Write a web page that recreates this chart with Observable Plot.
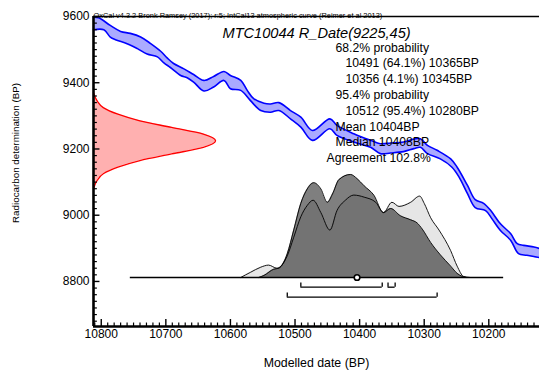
<!DOCTYPE html>
<html><head><meta charset="utf-8">
<script src="https://cdn.jsdelivr.net/npm/d3@7"></script>
<script src="https://cdn.jsdelivr.net/npm/@observablehq/plot@0.6"></script>
<style>
html,body{margin:0;padding:0;background:#fff;}
#chart svg{display:block;}
</style></head><body><div id="chart"></div>
<script>
// ---- data ----
const xTicks = [10800, 10700, 10600, 10500, 10400, 10300, 10200];
const yTicks = [8800, 9000, 9200, 9400, 9600];

// IntCal13 curve, upper and lower edges (cal BP, 14C BP)
const calUpperYear = [10812, 10804, 10786, 10770, 10755, 10739, 10724, 10708, 10698, 10688, 10672, 10657, 10641, 10626, 10610, 10600, 10584, 10574, 10564, 10548, 10538, 10525, 10507, 10491, 10473, 10446, 10435, 10409, 10383, 10368, 10352, 10332, 10316, 10306, 10295, 10280, 10259, 10249, 10233, 10221, 10208, 10197, 10182, 10166, 10156, 10146, 10130, 10121];
const calUpper     = [9598, 9596, 9573, 9555, 9549, 9538, 9519, 9495, 9475, 9458, 9442, 9425, 9407, 9419, 9434, 9422, 9407, 9377, 9352, 9338, 9336, 9340, 9316, 9296, 9256, 9291, 9271, 9246, 9226, 9216, 9218, 9221, 9230, 9231, 9211, 9196, 9170, 9145, 9090, 9047, 9036, 9014, 8974, 8944, 8914, 8909, 8904, 8899];
const calLowerYear = [10812, 10796, 10786, 10778, 10760, 10744, 10729, 10713, 10703, 10693, 10677, 10667, 10657, 10641, 10626, 10610, 10600, 10584, 10569, 10553, 10538, 10525, 10507, 10491, 10473, 10446, 10435, 10409, 10383, 10368, 10352, 10332, 10316, 10306, 10295, 10275, 10257, 10246, 10233, 10221, 10205, 10195, 10182, 10166, 10154, 10141, 10121];
const calLower     = [9560, 9560, 9538, 9530, 9518, 9503, 9487, 9478, 9460, 9446, 9422, 9415, 9402, 9375, 9387, 9407, 9382, 9377, 9346, 9316, 9311, 9316, 9291, 9266, 9226, 9261, 9241, 9221, 9205, 9186, 9188, 9192, 9201, 9205, 9186, 9170, 9145, 9115, 9065, 9023, 9014, 8989, 8954, 8924, 8884, 8879, 8872];

// Radiocarbon measurement R_Date(9225,45): relative probability by 14C age
const redC14  = [9370, 9345, 9325, 9305, 9285, 9265, 9245, 9225, 9205, 9185, 9165, 9145, 9125, 9105, 9080];
const redProb = [0.0, 0.03, 0.08, 0.2, 0.38, 0.64, 0.9, 1.0, 0.9, 0.64, 0.38, 0.2, 0.08, 0.03, 0.0];

// Calibrated likelihood (light) and posterior (dark)
const likeYear = [10584, 10569, 10553, 10541, 10528, 10512, 10502, 10491, 10481, 10472, 10460, 10446, 10435, 10422, 10409, 10393, 10375, 10363, 10350, 10339, 10321, 10307, 10300, 10290, 10277, 10259, 10249, 10239, 10229];
const likeProb = [0, 0.05, 0.10, 0.12, 0.09, 0.21, 0.39, 0.59, 0.70, 0.75, 0.63, 0.46, 0.65, 0.75, 0.80, 0.78, 0.73, 0.63, 0.73, 0.69, 0.73, 0.79, 0.72, 0.58, 0.46, 0.26, 0.11, 0.01, 0];
const postYear = [10556, 10548, 10533, 10525, 10512, 10502, 10491, 10481, 10471, 10460, 10450, 10442, 10432, 10414, 10404, 10393, 10378, 10363, 10352, 10337, 10321, 10311, 10303, 10290, 10275, 10259, 10249, 10241, 10235];
const postProb = [0, 0.02, 0.08, 0.09, 0.23, 0.46, 0.72, 0.86, 0.92, 0.86, 0.73, 0.81, 0.95, 1.00, 0.96, 0.89, 0.80, 0.63, 0.67, 0.60, 0.56, 0.53, 0.47, 0.34, 0.22, 0.11, 0.04, 0.01, 0];

const plotRange = [10755, 10177];
const range68 = [[10491, 10365], [10356, 10345]];
const range95 = [[10512, 10280]];
const meanDate = 10404;

const headerText = "OxCal v4.3.2 Bronk Ramsey (2017); r:5; IntCal13 atmospheric curve (Reimer et al 2013)";
const titleText = "MTC10044 R_Date(9225,45)";
const statLines = ["68.2% probability", "10491 (64.1%) 10365BP", "10356 (4.1%) 10345BP", "95.4% probability", "10512 (95.4%) 10280BP", "Mean 10404BP", "Median 10408BP", "Agreement 102.8%"];
const xLabel = "Modelled date (BP)";
const yLabel = "Radiocarbon determination (BP)";

// ---- layout ----
const xDomain = [10812, 10121.5];
const yDomain = [8664, 9600];
const xLeft = xDomain[0];
const base = 8812;     // 14C level of the distribution baseline
const distK = 311;     // 14C units for relative prob 1
const redK = 189;      // years for relative prob 1
const font = "'Liberation Sans', Arial, Helvetica, sans-serif";

const upper = calUpperYear.map((x, i) => ({x, y: calUpper[i]}));
const lower = calLowerYear.map((x, i) => ({x, y: calLower[i]}));
const bandPoly = upper.concat(lower.slice().reverse());
const red = redC14.map((c, i) => ({c, p: redProb[i]}));
const like = likeYear.map((x, i) => ({x, p: likeProb[i]}));
const post = postYear.map((x, i) => ({x, p: postProb[i]}));
const bars = range68.map(r => ({r, lvl: base - 29.3})).concat(range95.map(r => ({r, lvl: base - 59.5})));
const barEnds = bars.flatMap(b => [{x: b.r[0], lvl: b.lvl}, {x: b.r[1], lvl: b.lvl}]);

const xMinor = d3.range(10130, 10811, 10).filter(v => !xTicks.includes(v));
const yMinor = d3.range(8680, 9601, 20).filter(v => !yTicks.includes(v));
const statDx = [242, 252, 252, 242, 252, 242, 242, 233];

const chart = Plot.plot({
  width: 539, height: 377,
  marginLeft: 93, marginRight: 0, marginTop: 16, marginBottom: 51,
  x: {domain: xDomain, axis: null},
  y: {domain: yDomain, axis: null},
  style: {fontFamily: font, background: "white", color: "black", overflow: "visible"},
  marks: [
    // calibration curve band
    Plot.line(bandPoly, {x: "x", y: "y", fill: "#aaaaff", stroke: "none", curve: "catmull-rom"}),
    Plot.line(upper, {x: "x", y: "y", stroke: "#0000ff", strokeWidth: 1.6, curve: "catmull-rom"}),
    Plot.line(lower, {x: "x", y: "y", stroke: "#0000ff", strokeWidth: 1.6, curve: "catmull-rom"}),
    // radiocarbon measurement distribution
    Plot.areaX(red, {y: "c", x1: xLeft, x2: d => xLeft - d.p * redK, fill: "#ffb0b0", curve: "monotone-y"}),
    Plot.lineX(red, {y: "c", x: d => xLeft - d.p * redK, stroke: "#ff0000", strokeWidth: 1.3, curve: "monotone-y"}),
    // calibrated distributions
    Plot.areaY(like, {x: "x", y1: base, y2: d => base + d.p * distK, fill: "#e6e6e6", curve: "monotone-x"}),
    Plot.areaY(post, {x: "x", y1: base, y2: d => base + d.p * distK, fill: "black", fillOpacity: 0.5, curve: "monotone-x"}),
    Plot.lineY(post, {x: "x", y: d => base + d.p * distK, stroke: "black", strokeWidth: 0.9, curve: "monotone-x"}),
    Plot.lineY(like, {x: "x", y: d => base + d.p * distK, stroke: "black", strokeWidth: 0.9, curve: "monotone-x"}),
    Plot.ruleY([base], {x1: plotRange[0], x2: plotRange[1], stroke: "black", strokeWidth: 1.3}),
    Plot.dot([meanDate], {x: d => d, y: base, r: 2.8, fill: "white", stroke: "black", strokeWidth: 1.6}),
    // ranges
    Plot.ruleY(bars, {y: "lvl", x1: d => d.r[0], x2: d => d.r[1], stroke: "black", strokeWidth: 1.3}),
    Plot.ruleX(barEnds, {x: "x", y1: "lvl", y2: d => d.lvl + 13, stroke: "black", strokeWidth: 1.3}),
    // axes
    Plot.ruleX(xMinor, {x: d => d, y1: yDomain[0], y2: yDomain[0] + 10.5, stroke: "black", strokeWidth: 1.2}),
    Plot.ruleX(xTicks, {x: d => d, y1: yDomain[0], y2: yDomain[0] + 21, stroke: "black", strokeWidth: 1.4}),
    Plot.ruleY(yMinor, {y: d => d, x1: xLeft, x2: xLeft - 6, stroke: "black", strokeWidth: 1.2}),
    Plot.ruleY(yTicks, {y: d => d, x1: xLeft, x2: xLeft - 10, stroke: "black", strokeWidth: 1.4}),
    Plot.ruleY([yDomain[1]], {stroke: "black", strokeWidth: 1.5}),
    Plot.ruleX([xLeft], {stroke: "black", strokeWidth: 2.6}),
    Plot.ruleY([yDomain[0]], {stroke: "black", strokeWidth: 2.6}),
    Plot.text(xTicks, {x: d => d, y: yDomain[0], dy: 7.5, text: d => String(d), fontSize: 12, fill: "black"}),
    Plot.text(yTicks, {x: xLeft, y: d => d, dx: -4, text: d => String(d), textAnchor: "end", fontSize: 12, fill: "black"}),
    Plot.text([xLabel], {frameAnchor: "bottom", dy: 40, textAnchor: "middle", fontSize: 12.35, fill: "black"}),
    Plot.text([yLabel], {frameAnchor: "left", dx: -78, dy: -18.5, rotate: -90, textAnchor: "middle", fontSize: 9.8, fill: "black"}),
    // annotations
    Plot.text([headerText], {frameAnchor: "top-left", dy: -3.7, textAnchor: "start", fontSize: 7.4, fill: "black"}),
    Plot.text([titleText], {frameAnchor: "top-left", dx: 129, dy: 11.6, textAnchor: "start", fontSize: 14.6, fontStyle: "italic", fill: "black"}),
    ...statLines.map((t, i) => Plot.text([t], {frameAnchor: "top-left", dx: statDx[i], dy: 26.5 + i * 15.8, textAnchor: "start", fontSize: 12.2, fill: "black"}))
  ]
});
document.getElementById("chart").appendChild(chart);
</script>
</body></html>
